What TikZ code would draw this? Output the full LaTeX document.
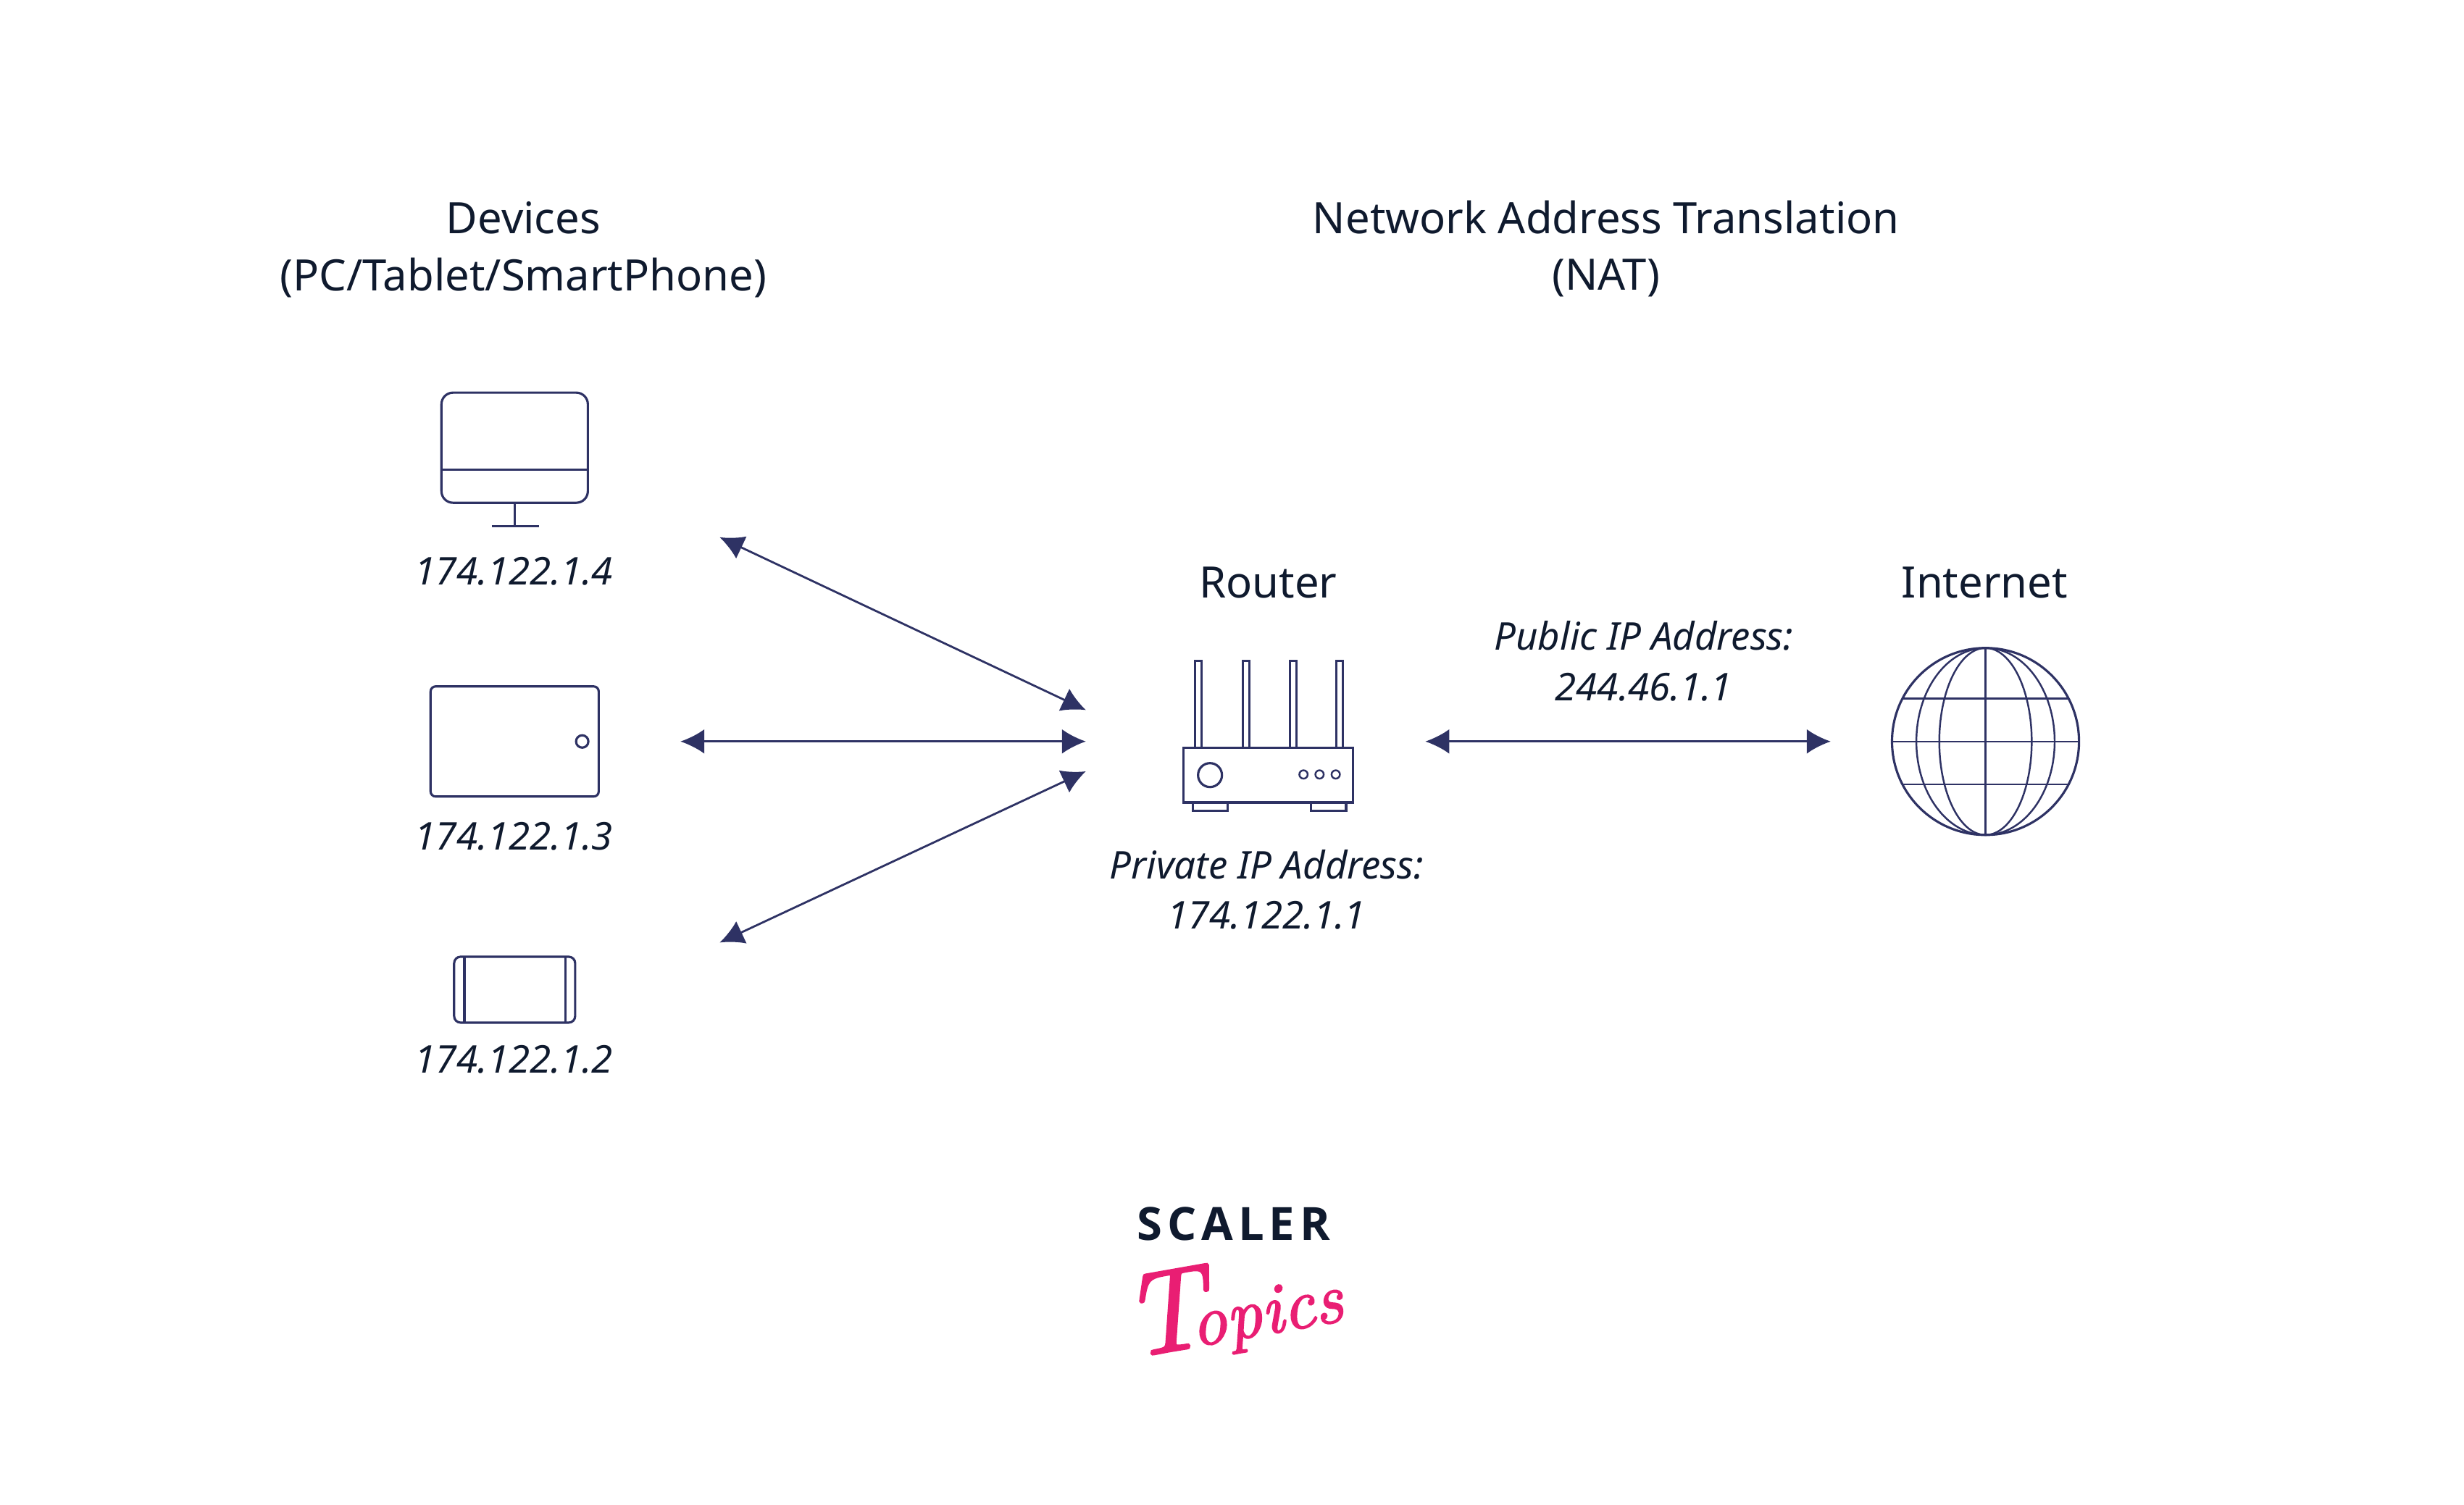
\documentclass[tikz,border=0pt]{standalone}
\usepackage{fontspec}
\setmainfont{Noto Sans}
\newfontfamily\logofont[LetterSpace=11]{Open Sans}
\newfontfamily\topicsfont[FakeBold=2.2]{Latin Modern Roman}
\usetikzlibrary{arrows.meta}
\definecolor{inkblue}{HTML}{2E3264}
\definecolor{darktext}{HTML}{0F1A2E}
\definecolor{hotpink}{HTML}{E91E73}
\tikzset{
  title/.style={font=\fontsize{17}{22}\selectfont, text=darktext, inner sep=0pt},
  iplabel/.style={font=\fontsize{15}{20}\selectfont\itshape, text=darktext, inner sep=0pt},
  icon/.style={draw=inkblue, line width=0.9pt, outer sep=0pt, inner sep=0pt},
  iconline/.style={draw=inkblue, line width=0.9pt},
  link/.style={draw=inkblue, line width=0.8pt, {Latex[length=3.3mm,width=3.4mm]}-{Latex[length=3.3mm,width=3.4mm]}}
}
\begin{document}
\begin{tikzpicture}[x=0.02169cm, y=-0.02169cm]
  \useasboundingbox (0,0) rectangle (1568,957.6);

  % Titres
  \node[title] (devicesA) at (333,138.5) {Devices};
  \node[title] (devicesB) at (333,177) {(PC/Tablet/SmartPhone)};
  \node[title] (natA) at (1022,138.5) {Network Address Translation};
  \node[title] (natB) at (1022,177) {(NAT)};
  \node[title] (routerT) at (807,371) {Router};
  \node[title] (internetT) at (1263,371) {Internet};

  % Monitor
  \node[icon, rounded corners=0.16cm, minimum width=2.02cm, minimum height=1.52cm] (monitor) at (327.5,285) {};
  \draw[iconline] (281,299) -- (374,299);
  \draw[iconline] (monitor.south) -- (327.5,335);
  \draw[iconline] (313,335) -- (343,335);

  % Tablet
  \node[icon, rounded corners=0.07cm, minimum width=2.32cm, minimum height=1.52cm] (tablet) at (327.5,472) {};
  \node[icon, circle, minimum size=0.17cm] (tabletbtn) at (370.5,472) {};

  % Phone
  \node[icon, rounded corners=0.09cm, minimum width=1.67cm, minimum height=0.91cm] (phone) at (327.5,630) {};
  \draw[iconline] (295.5,609) -- (295.5,651);
  \draw[iconline] (360,609) -- (360,651);

  % Adresses
  \node[iplabel] (ipfour) at (327,363.5) {174.122.1.4};
  \node[iplabel] (ipthree) at (327,532.5) {174.122.1.3};
  \node[iplabel] (iptwo) at (327,674.5) {174.122.1.2};

  % Router
  \foreach \ax/\aname in {762.6/a,793/b,823/c,852.5/d}{
    \node[icon, line width=0.7pt, minimum width=0.09cm, minimum height=1.2cm, anchor=south] (ant\aname) at (\ax,476) {};
  }
  \node[icon, fill=white, minimum width=2.34cm, minimum height=0.75cm] (router) at (807,493.5) {};
  \node[icon, circle, minimum size=0.33cm] (routerbtn) at (770,493.4) {};
  \foreach \lx/\lname in {829.5/a,839.7/b,850/c}{
    \node[icon, line width=0.7pt, circle, minimum size=0.115cm] (led\lname) at (\lx,493) {};
  }
  \node[icon, minimum width=0.48cm, minimum height=0.12cm, anchor=north] (footl) at (770,510.5) {};
  \node[icon, minimum width=0.48cm, minimum height=0.12cm, anchor=north] (footr) at (845.5,510.5) {};
  \node[iplabel] (privA) at (806,550.5) {Private IP Address:};
  \node[iplabel] (privB) at (806,582.5) {174.122.1.1};

  % Internet
  \node[icon, circle, minimum size=2.58cm] (globe) at (1263.5,472) {};
  \draw[iconline, line width=0.7pt] (globe.center) ellipse (44 and 59.5);
  \draw[iconline, line width=0.7pt] (globe.center) ellipse (29.4 and 59.5);
  \draw[iconline, line width=0.7pt] (globe.north) -- (globe.south);
  \draw[iconline, line width=0.7pt] (globe.west) -- (globe.east);
  \draw[iconline, line width=0.7pt] (1210.6,444.7) -- (1316.4,444.7);
  \draw[iconline, line width=0.7pt] (1210.6,499.3) -- (1316.4,499.3);
  \node[iplabel] (pubA) at (1046,404.5) {Public IP Address:};
  \node[iplabel] (pubB) at (1046,437.5) {244.46.1.1};

  % Liens
  \coordinate (endfour) at (458,342);
  \coordinate (endthree) at (433,472);
  \coordinate (endtwo) at (458,600);
  \coordinate (rtrfour) at (691,452);
  \coordinate (rtrthree) at (691,472);
  \coordinate (rtrtwo) at (691,491);
  \coordinate (rtrnet) at (907,472);
  \coordinate (netend) at (1165,472);
  \draw[link] (endfour) -- (rtrfour);
  \draw[link] (endthree) -- (rtrthree);
  \draw[link] (endtwo) -- (rtrtwo);
  \draw[link] (rtrnet) -- (netend);

  % Logo
  \node[inner sep=0pt, text=darktext, font=\logofont\bfseries\fontsize{18}{20}\selectfont] (scaler) at (785,779) {SCALER};
  \node[inner sep=0pt, text=hotpink, rotate=10, font=\topicsfont\itshape] (topics) at (784,832) {\fontsize{46}{46}\selectfont T\kern-0.14em\fontsize{28}{28}\selectfont opics};
\end{tikzpicture}
\end{document}
